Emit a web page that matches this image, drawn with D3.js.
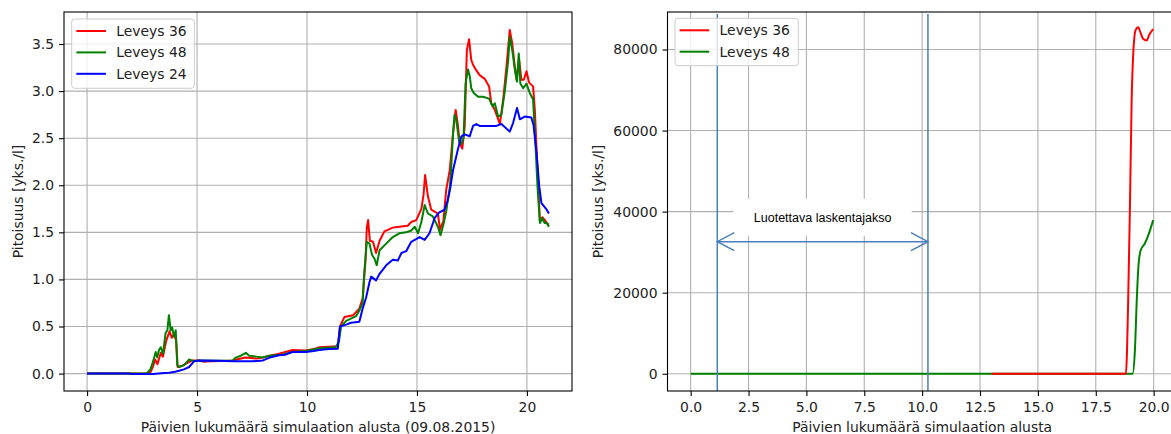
<!DOCTYPE html>
<html><head><meta charset="utf-8">
<script src="https://cdn.jsdelivr.net/npm/d3@7"></script>
<style>
html,body{margin:0;padding:0;background:#fff;}
svg{display:block;}
text{font-family:"DejaVu Sans",sans-serif;}
</style></head><body>
<svg id="chart" width="1171" height="434"></svg>
<script>
// ---------- DATA ----------
const leftNames = ["Leveys 36", "Leveys 48", "Leveys 24"];
const rightNames = ["Leveys 36", "Leveys 48"];
const leftXTicks = [0, 5, 10, 15, 20];
const leftYTicks = [0, 0.5, 1.0, 1.5, 2.0, 2.5, 3.0, 3.5];
const rightXTicks = [0, 2.5, 5, 7.5, 10, 12.5, 15, 17.5, 20];
const rightYTicks = [0, 20000, 40000, 60000, 80000];
const leftXLabel = "Päivien lukumäärä simulaation alusta (09.08.2015)";
const rightXLabel = "Päivien lukumäärä simulaation alusta";
const yLabel = "Pitoisuus [yks./l]";
const periodLabel = "Luotettava laskentajakso";
const periodDays = [1.15, 10.25];
const periodArrowLevel = 32600;
const periodTextLevel = 38600;

// left panel: [day, value]
const left36 = [[0,0],[2.75,0],[2.9,0.02],[3.0,0.08],[3.1,0.15],[3.2,0.1],[3.35,0.22],[3.45,0.18],[3.6,0.35],[3.75,0.45],[3.85,0.38],[3.95,0.42],[4.05,0.35],[4.12,0.07],[4.3,0.08],[4.6,0.12],[4.8,0.14],[5.1,0.14],[5.3,0.125],[5.6,0.13],[6.6,0.135],[6.8,0.15],[7.2,0.17],[7.7,0.16],[8.0,0.17],[8.3,0.19],[8.73,0.21],[9.34,0.25],[9.95,0.245],[10.3,0.26],[10.56,0.28],[11.4,0.29],[11.5,0.5],[11.7,0.6],[12.1,0.62],[12.38,0.69],[12.53,0.80],[12.66,1.2],[12.72,1.55],[12.78,1.63],[12.86,1.41],[13.0,1.40],[13.14,1.28],[13.3,1.41],[13.52,1.51],[13.9,1.55],[14.2,1.56],[14.58,1.57],[14.74,1.61],[14.97,1.63],[15.2,1.75],[15.3,1.9],[15.37,2.11],[15.5,1.88],[15.65,1.74],[15.8,1.72],[15.95,1.70],[16.05,1.53],[16.2,1.62],[16.33,1.95],[16.49,2.16],[16.64,2.55],[16.76,2.80],[16.86,2.64],[16.95,2.44],[17.06,2.39],[17.17,2.62],[17.27,3.44],[17.37,3.55],[17.47,3.33],[17.55,3.28],[17.67,3.23],[17.85,3.17],[18.08,3.13],[18.28,3.05],[18.38,2.87],[18.54,2.80],[18.77,2.65],[18.92,2.91],[19.07,3.26],[19.22,3.65],[19.33,3.51],[19.45,3.26],[19.53,3.12],[19.64,3.35],[19.75,3.12],[19.86,3.12],[19.98,3.21],[20.1,3.09],[20.28,3.05],[20.36,2.8],[20.46,2.27],[20.59,1.62],[20.7,1.66],[20.82,1.63],[20.9,1.60],[21.0,1.58]];
const left48 = [[0,0],[2.66,0.0],[2.75,0.01],[2.89,0.05],[3.04,0.16],[3.12,0.23],[3.19,0.17],[3.27,0.25],[3.35,0.28],[3.45,0.21],[3.57,0.43],[3.65,0.46],[3.72,0.62],[3.8,0.46],[3.87,0.49],[3.95,0.39],[4.03,0.46],[4.1,0.09],[4.18,0.07],[4.41,0.09],[4.64,0.15],[4.86,0.13],[5.09,0.14],[6.0,0.135],[6.6,0.135],[6.76,0.17],[6.99,0.19],[7.22,0.22],[7.37,0.19],[7.68,0.18],[7.98,0.17],[8.28,0.19],[8.89,0.2],[9.34,0.23],[9.95,0.24],[10.56,0.27],[11.3,0.28],[11.45,0.34],[11.55,0.5],[11.78,0.56],[12.23,0.61],[12.38,0.67],[12.53,0.75],[12.6,1.06],[12.72,1.40],[12.84,1.38],[12.96,1.26],[13.07,1.22],[13.17,1.15],[13.3,1.31],[13.6,1.38],[13.9,1.45],[14.2,1.49],[14.51,1.50],[14.74,1.52],[14.9,1.56],[15.05,1.49],[15.2,1.61],[15.35,1.79],[15.5,1.7],[15.72,1.67],[15.95,1.56],[16.07,1.47],[16.2,1.58],[16.33,1.72],[16.4,1.84],[16.5,1.99],[16.56,2.2],[16.64,2.55],[16.71,2.75],[16.79,2.69],[16.92,2.46],[17.02,2.44],[17.12,2.51],[17.21,3.08],[17.32,3.23],[17.4,3.16],[17.47,3.03],[17.58,2.98],[17.78,2.94],[18.0,2.94],[18.28,2.92],[18.43,2.84],[18.54,2.87],[18.69,2.73],[18.84,2.75],[19.0,3.01],[19.15,3.33],[19.22,3.58],[19.33,3.44],[19.45,3.23],[19.55,3.10],[19.63,3.40],[19.7,3.08],[19.83,3.03],[19.98,3.08],[20.13,2.98],[20.28,2.91],[20.4,2.38],[20.48,1.99],[20.59,1.60],[20.7,1.65],[20.8,1.60],[20.9,1.60],[21.0,1.56]];
const left24 = [[0,0],[1.9,0],[2.0,-0.005],[3.0,-0.005],[3.5,0.005],[3.73,0.01],[4.0,0.02],[4.18,0.03],[4.4,0.045],[4.64,0.07],[4.86,0.13],[5.09,0.14],[6.0,0.135],[6.6,0.13],[7.5,0.13],[8.0,0.14],[8.3,0.17],[8.73,0.195],[9.0,0.2],[9.34,0.23],[9.95,0.23],[10.3,0.24],[10.56,0.25],[11.0,0.26],[11.4,0.265],[11.5,0.5],[11.78,0.52],[12.0,0.54],[12.38,0.55],[12.53,0.69],[12.69,0.81],[12.84,0.97],[12.92,1.03],[13.14,0.99],[13.3,1.06],[13.6,1.15],[13.9,1.21],[14.13,1.2],[14.29,1.28],[14.51,1.30],[14.74,1.40],[15.12,1.45],[15.35,1.42],[15.57,1.49],[15.8,1.65],[16.0,1.71],[16.25,1.74],[16.4,1.84],[16.5,1.95],[16.64,2.16],[16.86,2.38],[17.02,2.52],[17.17,2.54],[17.4,2.52],[17.55,2.63],[17.7,2.65],[17.85,2.63],[18.61,2.63],[18.84,2.65],[19.22,2.57],[19.37,2.66],[19.55,2.82],[19.68,2.70],[19.9,2.73],[20.2,2.72],[20.3,2.64],[20.44,2.34],[20.56,1.99],[20.66,1.81],[20.9,1.74],[21.0,1.70]];

// right panel: [day, value]
const right36 = [[13.0,0],[18.8,0],[18.9,18100],[18.98,42800],[19.05,67560],[19.12,79100],[19.22,84800],[19.33,85500],[19.44,84050],[19.55,82570],[19.7,82230],[19.81,83640],[19.98,85050]];
const right48 = [[0,0],[19.09,0],[19.19,5760],[19.27,18100],[19.34,26350],[19.44,30480],[19.62,32130],[19.77,34190],[19.98,37900]];

// ---------- STYLE ----------
const colors = {"Leveys 36":"#ff0000","Leveys 48":"#008000","Leveys 24":"#0000ff"};
const markColor = "#4a7ebe";
const FS = "13.9px";
const gridColor = "#b0b0b0";

const svg = d3.select("#chart");

const L = {x0:64, x1:572, y0:12, y1:391};
const R = {x0:667.5, x1:1176.8, y0:12, y1:391};

const xL = d3.scaleLinear([-1.05, 22.05], [L.x0, L.x1]);
const yL = d3.scaleLinear([-0.185, 3.84], [L.y1, L.y0]);
const xR = d3.scaleLinear([-1, 21], [R.x0, R.x1]);
const yR = d3.scaleLinear([-4250, 89250], [R.y1, R.y0]);

const defs = svg.append("defs");
function clip(id, b){
  defs.append("clipPath").attr("id", id).append("rect")
    .attr("x", b.x0).attr("y", b.y0).attr("width", b.x1-b.x0).attr("height", b.y1-b.y0);
}
clip("clipL", L); clip("clipR", R);

function grid(b, x, y, xt, yt){
  const g = svg.append("g");
  g.selectAll(".gx").data(xt).join("line")
    .attr("x1", d=>x(d)).attr("x2", d=>x(d)).attr("y1", b.y0).attr("y2", b.y1)
    .attr("stroke", gridColor).attr("stroke-width", 1.1);
  g.selectAll(".gy").data(yt).join("line")
    .attr("y1", d=>y(d)).attr("y2", d=>y(d)).attr("x1", b.x0).attr("x2", b.x1)
    .attr("stroke", gridColor).attr("stroke-width", 1.1);
}
grid(L, xL, yL, leftXTicks, leftYTicks);
grid(R, xR, yR, rightXTicks, rightYTicks);

// white box behind the annotation text (right panel)
const periodMid = (periodDays[0] + periodDays[1]) / 2;
svg.append("rect")
  .attr("x", xR(periodMid) - 89).attr("y", yR(periodTextLevel) - 18.5)
  .attr("width", 178).attr("height", 37).attr("fill", "#fff");

function drawLine(data, x, y, color, clipId, curve){
  svg.append("path").datum(data)
    .attr("clip-path", `url(#${clipId})`)
    .attr("fill", "none").attr("stroke", color).attr("stroke-width", 2)
    .attr("stroke-linejoin", "round").attr("stroke-linecap", "butt")
    .attr("d", d3.line().x(d=>x(d[0])).y(d=>y(d[1])).curve(curve || d3.curveLinear));
}
drawLine(left36, xL, yL, colors["Leveys 36"], "clipL");
drawLine(left48, xL, yL, colors["Leveys 48"], "clipL");
drawLine(left24, xL, yL, colors["Leveys 24"], "clipL");

drawLine(right48, xR, yR, colors["Leveys 48"], "clipR", d3.curveMonotoneX);
drawLine(right36, xR, yR, colors["Leveys 36"], "clipR", d3.curveMonotoneX);

// period markers
periodDays.forEach(d => {
  svg.append("line").attr("x1", xR(d)).attr("x2", xR(d))
    .attr("y1", R.y0 + 2).attr("y2", R.y1)
    .attr("stroke", markColor).attr("stroke-width", 1.5);
});
const ay = yR(periodArrowLevel), ax1 = xR(periodDays[0]), ax2 = xR(periodDays[1]);
svg.append("line").attr("x1", ax1).attr("x2", ax2).attr("y1", ay).attr("y2", ay)
  .attr("stroke", markColor).attr("stroke-width", 1.5);
svg.append("path").attr("fill","none").attr("stroke", markColor).attr("stroke-width", 1.5)
  .attr("d", `M${ax1+17},${ay-9}L${ax1},${ay}L${ax1+17},${ay+9}M${ax2-17},${ay-9}L${ax2},${ay}L${ax2-17},${ay+9}`);
svg.append("text").attr("x", xR(periodMid)).attr("y", yR(periodTextLevel)).attr("dy", "0.35em")
  .attr("text-anchor", "middle").style("font-family", "'Liberation Sans', Arial, sans-serif")
  .style("font-size", "12.5px").attr("fill", "#000").text(periodLabel);

// spines
function spines(b){
  svg.append("rect").attr("x", b.x0).attr("y", b.y0).attr("width", b.x1-b.x0).attr("height", b.y1-b.y0)
    .attr("fill", "none").attr("stroke", "#000").attr("stroke-width", 1.1);
}
spines(L); spines(R);

// axes
function axes(b, x, y, xt, yt, xf, yf){
  const gx = svg.append("g").attr("transform", `translate(0,${b.y1})`)
    .call(d3.axisBottom(x).tickValues(xt).tickFormat(xf).tickSize(5).tickSizeOuter(0).tickPadding(6));
  const gy = svg.append("g").attr("transform", `translate(${b.x0},0)`)
    .call(d3.axisLeft(y).tickValues(yt).tickFormat(yf).tickSize(5).tickSizeOuter(0).tickPadding(5));
  [gx, gy].forEach(g => {
    g.select(".domain").remove();
    g.selectAll("line").attr("stroke", "#000").attr("stroke-width", 1.1);
    g.selectAll("text").style("font-family", "'DejaVu Sans', sans-serif").style("font-size", FS).attr("fill", "#222");
  });
}
axes(L, xL, yL, leftXTicks, leftYTicks, d3.format("d"), d3.format(".1f"));
axes(R, xR, yR, rightXTicks, rightYTicks, d3.format(".1f"), d3.format("d"));

// axis labels
function label(x, y, txt, rot){
  const t = svg.append("text").attr("text-anchor", "middle").style("font-size", FS).attr("fill", "#222").text(txt);
  if (rot) t.attr("transform", `translate(${x},${y}) rotate(-90)`);
  else t.attr("x", x).attr("y", y);
}
label((L.x0+L.x1)/2, 432, leftXLabel);
label((R.x0+R.x1)/2, 432, rightXLabel);
label(22.5, (L.y0+L.y1)/2, yLabel, true);
label(603, (R.y0+R.y1)/2, yLabel, true);

// legends
function legend(x0, y0, w, h, names){
  const g = svg.append("g");
  g.append("rect").attr("x", x0).attr("y", y0).attr("width", w).attr("height", h)
    .attr("rx", 3).attr("fill", "#fff").attr("fill-opacity", 0.8)
    .attr("stroke", "#cccccc").attr("stroke-width", 1);
  names.forEach((n, i) => {
    const cy = y0 + 12 + i * 21.4;
    g.append("line").attr("x1", x0 + 4.6).attr("x2", x0 + 34.3).attr("y1", cy).attr("y2", cy)
      .attr("stroke", colors[n]).attr("stroke-width", 2);
    g.append("text").attr("x", x0 + 44.6).attr("y", cy).attr("dy", "0.36em")
      .style("font-size", FS).attr("fill", "#222").text(n);
  });
}
legend(71.7, 19, 122.6, 69.3, leftNames);
legend(675, 18.3, 123.3, 47.4, rightNames);
</script>
</body></html>
